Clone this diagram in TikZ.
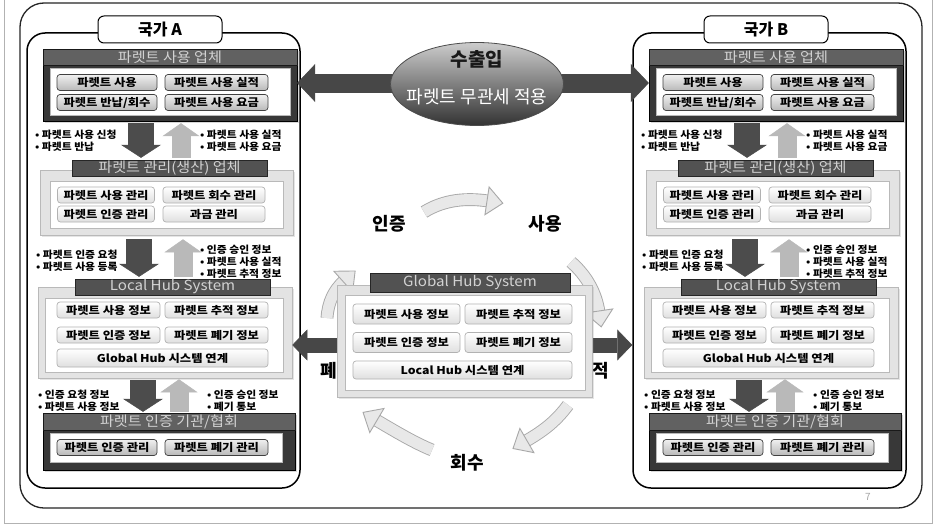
\documentclass[tikz,border=0pt]{standalone}
\usepackage{fontspec}
\setmainfont{Noto Sans CJK KR}
\newfontfamily\widefam{Noto Sans CJK KR}[FakeStretch=1.14]
\newfontfamily\widelbl{Noto Sans CJK KR}[FakeStretch=1.08]
\newfontfamily\hdrfam{Noto Sans CJK KR}[FakeStretch=1.08]
\usetikzlibrary{shapes.geometric,arrows.meta,decorations.markings,shadows,calc}

\tikzset{
 btnfont/.style={font=\widefam\bfseries\fontsize{10.8}{11}\selectfont},
 btndark/.style={btnfont, rounded corners=3pt, draw=black!75, line width=.7pt, top color=gray!12, bottom color=gray!55, minimum height=16pt, inner sep=0pt},
 btnlight/.style={btnfont, rounded corners=3pt, draw=gray!60, line width=.7pt, top color=white, bottom color=gray!25, minimum height=16pt, inner sep=0pt},
 darkbox/.style={fill=black!78, draw=black, inner sep=0pt, drop shadow={opacity=.3, shadow xshift=2pt, shadow yshift=-2pt}},
 lightbox/.style={fill=gray!22, draw=gray!55, line width=.6pt, inner sep=0pt, drop shadow={opacity=.2, shadow xshift=2pt, shadow yshift=-2pt}},
 panel/.style={fill=white, draw=gray!55, line width=.5pt, inner sep=0pt},
 hdrband/.style={fill=black!68, draw=black!85, text=gray!35, font=\hdrfam\fontsize{14}{14}\selectfont, inner sep=0pt, minimum height=16pt},
 hdrdark/.style={fill=black!62, draw=black!90, text=gray!35, font=\hdrfam\fontsize{14}{14}\selectfont, inner sep=0pt, minimum height=16pt},
 lbl/.style={font=\widelbl\bfseries\fontsize{10}{12}\selectfont, align=left, inner sep=0pt, anchor=west},
 fatdn/.style={draw=black!70, line width=26pt, -{Triangle[length=13pt,width=40pt,line width=.5pt]}},
 fatup/.style={draw=gray!55, line width=19pt, -{Triangle[length=13pt,width=37pt,line width=.5pt]}},
 cframe/.style={draw=black, line width=1.5pt, rounded corners=18pt, minimum width=273pt, minimum height=455pt, inner sep=0pt},
 ctitle/.style={draw=black, fill=white, line width=1pt, rounded corners=6pt, minimum width=124pt, minimum height=27pt, inner sep=0pt, font=\bfseries\fontsize{16}{16}\selectfont},
 bigarrow/.style={draw=black!72, line width=19pt, {Triangle[length=18pt,width=38pt,line width=.5pt]}-{Triangle[length=18pt,width=38pt,line width=.5pt]}},
 midarrow/.style={draw=black!72, line width=15pt, {Triangle[length=15pt,width=31pt,line width=.5pt]}-{Triangle[length=15pt,width=31pt,line width=.5pt]}},
 curv/.style={draw=gray!18, line width=11pt, preaction={draw=gray!68, line width=12.8pt}, postaction={decorate},
   decoration={markings, mark=at position 1 with {\filldraw[fill=gray!18, draw=gray!68, line width=.9pt] (-1,-14) -- (15,0) -- (-1,14) -- cycle;}}},
 cyc/.style={font=\bfseries\fontsize{18}{18}\selectfont, inner sep=0pt},
}

\newcommand{\countrypanel}[3]{%
\begin{scope}[xshift=#2pt]
\node[cframe] (#1frame) at (163.5,260.5) {};
\node[ctitle] (#1title) at (160,29.5) {#3};
% section 1
\node[darkbox, minimum width=254pt, minimum height=72pt] (#1s1) at (170,85) {};
\node[hdrdark, minimum width=254pt] (#1h1) at (170,57.5) {파렛트 사용 업체};
\node[panel, minimum width=240pt, minimum height=47pt] (#1p1) at (170,91.5) {};
\node[btndark, minimum width=100pt] (#1b11) at (107,82.5) {파렛트 사용};
\node[btndark, minimum width=103pt] (#1b12) at (216.5,82.5) {파렛트 사용 실적};
\node[btndark, minimum width=100pt] (#1b13) at (107,102.5) {파렛트 반납/회수};
\node[btndark, minimum width=103pt] (#1b14) at (216.5,102.5) {파렛트 사용 요금};
% section 2
\node[lightbox, minimum width=253pt, minimum height=65pt] (#1s2) at (166.5,202.5) {};
\node[hdrband, minimum width=195pt] (#1h2) at (169.5,168) {파렛트 관리(생산) 업체};
\node[panel, minimum width=233pt, minimum height=47pt] (#1p2) at (166.5,204.5) {};
\node[btnlight, minimum width=97pt] (#1b21) at (106,195) {파렛트 사용 관리};
\node[btnlight, minimum width=102pt] (#1b22) at (214,195) {파렛트 회수 관리};
\node[btnlight, minimum width=97pt] (#1b23) at (106,214) {파렛트 인증 관리};
\node[btnlight, minimum width=102pt] (#1b24) at (214,214) {과금 관리};
% section 3
\node[lightbox, minimum width=254pt, minimum height=91pt] (#1s3) at (165,332.5) {};
\node[hdrband, minimum width=195pt] (#1h3) at (172.5,287) {Local Hub System};
\node[panel, minimum width=238pt, minimum height=74pt] (#1p3) at (164,335) {};
\node[btnlight, minimum width=103pt] (#1b31) at (108.5,310) {파렛트 사용 정보};
\node[btnlight, minimum width=103pt] (#1b32) at (216.5,310) {파렛트 추적 정보};
\node[btnlight, minimum width=103pt] (#1b33) at (108.5,335) {파렛트 인증 정보};
\node[btnlight, minimum width=103pt] (#1b34) at (216.5,335) {파렛트 폐기 정보};
\node[btnlight, minimum width=211pt, minimum height=18pt] (#1b35) at (162.5,358) {Global Hub 시스템 연계};
% section 4
\node[darkbox, minimum width=252pt, minimum height=57pt] (#1s4) at (169,441.5) {};
\node[hdrdark, minimum width=252pt, minimum height=17pt] (#1h4) at (169,421.5) {파렛트 인증 기관/협회};
\node[panel, minimum width=232pt, minimum height=29pt] (#1p4) at (166,447.5) {};
\node[btndark, minimum width=100pt] (#1b41) at (107,447.5) {파렛트 인증 관리};
\node[btndark, minimum width=103pt] (#1b42) at (216.5,447.5) {파렛트 폐기 관리};
% flow arrows
\coordinate (#1d1) at (141,0); \coordinate (#1u1) at (181,0);
\coordinate (#1d2) at (139,0); \coordinate (#1u2) at (183,0);
\coordinate (#1d3) at (143,0); \coordinate (#1u3) at (179,0);
\draw[fatdn, shorten <=2pt, shorten >=2pt] (#1s1.south -| #1d1) -- (#1h2.north -| #1d1);
\draw[fatup, shorten <=2pt, shorten >=2pt] (#1h2.north -| #1u1) -- (#1s1.south -| #1u1);
\draw[fatdn, shorten <=4pt, shorten >=2pt] (#1s2.south -| #1d2) -- (#1h3.north -| #1d2);
\draw[fatup, shorten <=2pt, shorten >=4pt] (#1h3.north -| #1u2) -- (#1s2.south -| #1u2);
\draw[fatdn, shorten <=2pt, shorten >=1pt] (#1s3.south -| #1d3) -- (#1s4.north -| #1d3);
\draw[fatup, shorten <=1pt, shorten >=1pt] (#1s4.north -| #1u3) -- (#1s3.south -| #1u3);
% labels
\node[lbl] (#1la) at (35,141) {• 파렛트 사용 신청\\• 파렛트 반납};
\node[lbl] (#1ra) at (200,141) {• 파렛트 사용 실적\\• 파렛트 사용 요금};
\node[lbl] (#1lb) at (36,261) {• 파렛트 인증 요청\\• 파렛트 사용 등록};
\node[lbl] (#1rb) at (200,261.5) {• 인증 승인 정보\\• 파렛트 사용 실적\\• 파렛트 추적 정보};
\node[lbl] (#1lc) at (38,400.5) {• 인증 요청 정보\\• 파렛트 사용 정보};
\node[lbl] (#1rc) at (207,400.5) {• 인증 승인 정보\\• 폐기 통보};
\end{scope}}

\begin{document}
\begin{tikzpicture}[x=1pt,y=-1pt]
\useasboundingbox (0,0) rectangle (936,527);
\fill[white] (0,0) rectangle (936,527);
\draw[gray!60, line width=.8pt] (4,0) -- (4,523) -- (932,523) -- (932,0);
\node[draw=black!85, line width=1.3pt, rounded corners=24pt, minimum width=902pt, minimum height=505pt, inner sep=0pt] (outer) at (471,255.5) {};
\node[font=\fontsize{10}{10}\selectfont, text=gray!70] (pg) at (868,497) {7};

\countrypanel{A}{0}{국가 A}
\countrypanel{B}{606}{국가 B}

% export/import arrow and ellipse
\coordinate (ex) at (477,83);
\draw[bigarrow] (As1.east |- ex) -- (Bs1.west |- ex);
\node[ellipse, minimum width=173pt, minimum height=83pt, draw=black!70, line width=.8pt, top color=gray!40, bottom color=black!80, inner sep=0pt] (ell) at (477,84) {};
\node[font=\bfseries\fontsize{19}{19}\selectfont, text=black!90] (ella) at (477,59) {수출입};
\node[font=\fontsize{18}{18}\selectfont, text=white] (ellb) at (477,97) {파렛트 무관세 적용};

% middle arrow
\coordinate (mid) at (464,345);
\draw[midarrow] (As3.east |- mid) -- (Bframe.west |- mid);

% cycle arrows
\coordinate (c1a) at (424,212); \coordinate (c1b) at (488,201);
\coordinate (c2a) at (571,262); \coordinate (c2b) at (599,312);
\coordinate (c3a) at (327,318); \coordinate (c3b) at (344,281);
\coordinate (c4a) at (432,450); \coordinate (c4b) at (376,420);
\coordinate (c5a) at (568,405); \coordinate (c5b) at (526,441);
\draw[curv] (c1a) .. controls (445,199) and (468,198) .. (c1b);
\draw[curv] (c2a) .. controls (586,275) and (596,292) .. (c2b);
\draw[curv] (c3a) .. controls (328,302) and (334,290) .. (c3b);
\draw[curv] (c4a) .. controls (415,443) and (398,433) .. (c4b);
\draw[curv] (c5a) .. controls (557,420) and (545,430) .. (c5b);

\node[cyc] (t1) at (389,224) {인증};
\node[cyc] (t2) at (545,224) {사용};
\node[cyc] (t3) at (467,463) {회수};
\node[cyc, anchor=east] (t4) at (337,371) {폐};
\node[cyc, anchor=west] (t5) at (592,371) {적};

% global hub
\node[lightbox, minimum width=255pt, minimum height=112pt] (gh) at (464.5,341) {};
\node[hdrband, minimum width=200pt, minimum height=19pt] (ghh) at (470,282.5) {Global Hub System};
\node[panel, minimum width=240pt, minimum height=95pt] (ghp) at (465,342.5) {};
\node[btnlight, minimum width=107pt, minimum height=20pt] (g1) at (406.5,314) {파렛트 사용 정보};
\node[btnlight, minimum width=107pt, minimum height=20pt] (g2) at (518.5,314) {파렛트 추적 정보};
\node[btnlight, minimum width=107pt, minimum height=20pt] (g3) at (406.5,342.5) {파렛트 인증 정보};
\node[btnlight, minimum width=107pt, minimum height=20pt] (g4) at (518.5,342.5) {파렛트 폐기 정보};
\node[btnlight, minimum width=219pt, minimum height=18pt] (g5) at (462.5,370) {Local Hub 시스템 연계};
\end{tikzpicture}
\end{document}
